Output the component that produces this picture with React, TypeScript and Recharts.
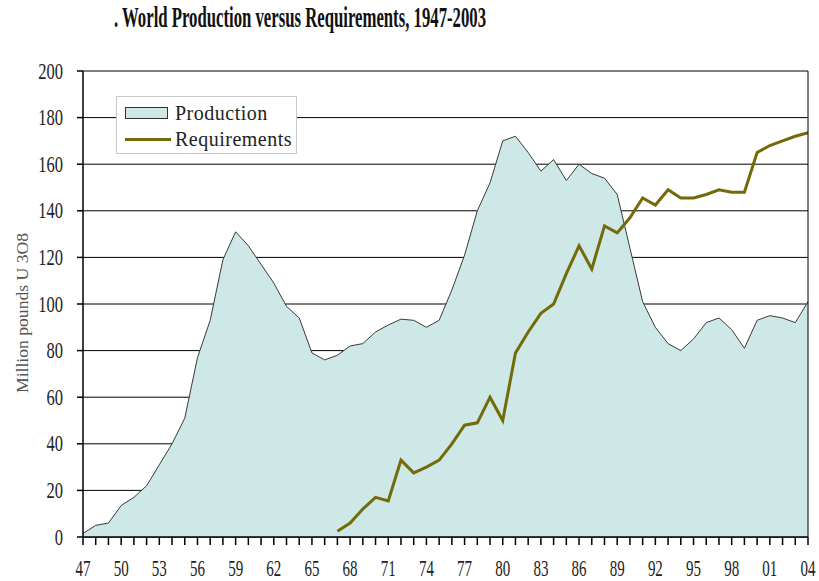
import React from "react";
import {
  ComposedChart,
  Area,
  Line,
  XAxis,
  YAxis,
  CartesianGrid,
  ReferenceLine,
  Legend,
} from "recharts";

const years = [
  "47", "48", "49", "50", "51", "52", "53", "54", "55", "56",
  "57", "58", "59", "60", "61", "62", "63", "64", "65", "66",
  "67", "68", "69", "70", "71", "72", "73", "74", "75", "76",
  "77", "78", "79", "80", "81", "82", "83", "84", "85", "86",
  "87", "88", "89", "90", "91", "92", "93", "94", "95", "96",
  "97", "98", "99", "00", "01", "02", "03", "04",
];

const labelledYears = [
  "47", "50", "53", "56", "59", "62", "65", "68", "71", "74",
  "77", "80", "83", "86", "89", "92", "95", "98", "01", "04",
];

// million pounds U3O8
const production = [
  1.5, 5, 6, 13.5, 17, 22, 31, 40, 51, 77,
  93, 119, 131, 125, 117, 109, 99, 94, 79, 76,
  78, 82, 83, 88, 91, 93.5, 93, 90, 93, 106,
  121, 140, 152, 170, 172, 165, 157, 162, 153, 160,
  156, 154, 147, 124, 101, 90, 83, 80, 85, 92,
  94, 89, 81, 93, 95, 94, 92, 101,
];

const requirements = [
  null, null, null, null, null, null, null, null, null, null,
  null, null, null, null, null, null, null, null, null, null,
  2.5, 6, 12, 17, 15.5, 33, 27.5, 30, 33, 40,
  48, 49, 60, 50, 79, 88, 96, 100, 113, 125,
  115, 133.5, 130.5, 137, 145.5, 142.5, 149, 145.5, 145.5, 147,
  149, 148, 148, 165, 168, 170, 172, 173.5,
];

const yTicks = [0, 20, 40, 60, 80, 100, 120, 140, 160, 180, 200];

const data = years.map((year, i) => ({
  year,
  production: production[i],
  requirements: requirements[i],
}));

const SERIF = "'Liberation Serif', 'Times New Roman', serif";
const FILL = "#cde8e6";
const OLIVE = "#736a08";

// every year gets a tick mark, only every 3rd year a label
function XTick({ x, y, payload }: any) {
  if (!labelledYears.includes(payload.value)) return <g />;
  return (
    <g transform={`translate(${x},${y + 31}) scale(1,1.5)`}>
      <text textAnchor="middle" fontFamily={SERIF} fontSize={15} fill="#222">
        {payload.value}
      </text>
    </g>
  );
}

function YTick({ x, y, payload }: any) {
  return (
    <g transform={`translate(${x},${y + 7.5}) scale(1,1.35)`}>
      <text textAnchor="end" fontFamily={SERIF} fontSize={16.5} fill="#222">
        {payload.value}
      </text>
    </g>
  );
}

function LegendBox({ payload }: any) {
  return (
    <div
      style={{
        width: 181,
        height: 58,
        boxSizing: "border-box",
        border: "1px solid #c9c9c9",
        background: "#fff",
        position: "relative",
        fontFamily: SERIF,
        fontSize: 20,
        letterSpacing: 0.5,
        color: "#222",
      }}
    >
      {(payload || []).map((entry: any, i: number) => (
        <div
          key={i}
          style={{
            position: "absolute",
            left: 8,
            top: 5 + i * 26,
            height: 22,
            display: "flex",
            alignItems: "center",
            whiteSpace: "nowrap",
          }}
        >
          <div style={{ width: 46, display: "flex", alignItems: "center" }}>
            {entry.type === "rect" ? (
              <div
                style={{
                  width: 43,
                  height: 12,
                  boxSizing: "border-box",
                  background: FILL,
                  border: "1.5px solid #333",
                }}
              />
            ) : (
              <div style={{ width: 46, height: 3, background: OLIVE }} />
            )}
          </div>
          <span style={{ marginLeft: 4, lineHeight: "22px" }}>{entry.value}</span>
        </div>
      ))}
    </div>
  );
}

export default function App() {
  return (
    <div
      style={{
        position: "absolute",
        left: 0,
        top: 0,
        width: 819,
        height: 581,
        background: "#fff",
      }}
    >
      <ComposedChart
        width={819}
        height={581}
        data={data}
        margin={{ top: 71, right: 11, bottom: 0, left: 0 }}
      >
        <CartesianGrid vertical={false} stroke="#000" strokeWidth={1} />
        <XAxis
          dataKey="year"
          scale="point"
          padding={{ left: 0, right: 0 }}
          interval={0}
          height={44}
          tickSize={8}
          tickMargin={0}
          axisLine={{ stroke: "#000", strokeWidth: 1.5 }}
          tickLine={{ stroke: "#000", strokeWidth: 1.5 }}
          tick={<XTick />}
        />
        <YAxis
          domain={[0, 200]}
          ticks={yTicks}
          width={83}
          tickSize={6}
          tickMargin={14}
          axisLine={{ stroke: "#000", strokeWidth: 1.5 }}
          tickLine={{ stroke: "#000", strokeWidth: 1.5 }}
          tick={<YTick />}
        />
        <Legend
          layout="vertical"
          align="center"
          verticalAlign="middle"
          wrapperStyle={{ left: 116, top: 96, width: 181, height: 58 }}
          content={<LegendBox />}
        />
        <Area
          type="linear"
          dataKey="production"
          name="Production"
          legendType="rect"
          stroke="#3a3a3a"
          strokeWidth={1}
          fill={FILL}
          fillOpacity={1}
          isAnimationActive={false}
        />
        <Line
          type="linear"
          dataKey="requirements"
          name="Requirements"
          stroke={OLIVE}
          strokeWidth={3}
          dot={false}
          activeDot={false}
          isAnimationActive={false}
        />
        <ReferenceLine x={years[years.length - 1]} stroke="#000" />
      </ComposedChart>
      <svg
        width={819}
        height={581}
        style={{ position: "absolute", left: 0, top: 0, pointerEvents: "none" }}
      >
        <g transform="translate(114,27) scale(1,1.7)">
          <text
            fontFamily={SERIF}
            fontWeight="bold"
            fontSize={17}
            fill="#111"
            textLength={372}
            lengthAdjust="spacingAndGlyphs"
          >
            . World Production versus Requirements, 1947-2003
          </text>
        </g>
        <text
          transform="translate(28,313) rotate(-90)"
          textAnchor="middle"
          fontFamily={SERIF}
          fontSize={17}
          fill="#555"
          textLength={160}
          lengthAdjust="spacingAndGlyphs"
        >
          Million pounds U 3O8
        </text>
      </svg>
    </div>
  );
}
